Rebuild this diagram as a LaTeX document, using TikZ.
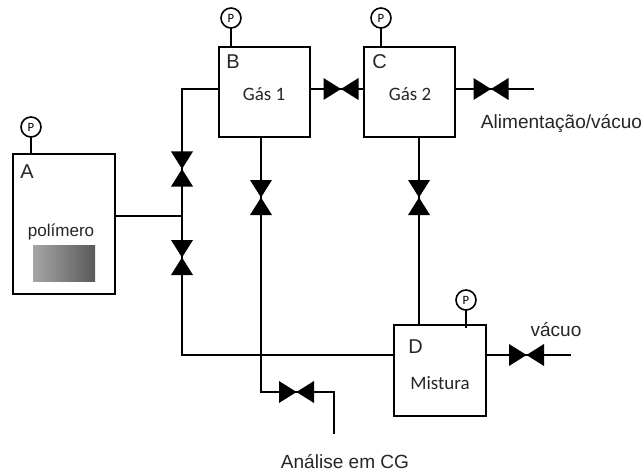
\documentclass[tikz,border=0pt]{standalone}
\usepackage{fontspec}
\setmainfont{Liberation Sans}
\newfontfamily\calfont{Carlito}
\begin{document}
\begin{tikzpicture}[x=0.75pt,y=-0.75pt,
  tank/.style={draw=black,line width=1.2pt,fill=white,inner sep=0pt,outer sep=0pt},
  pipe/.style={draw=black,line width=1.25pt},
  gauge/.style={circle,draw=black,line width=1.2pt,fill=white,minimum size=15pt,inner sep=0pt,outer sep=0pt,font=\calfont\fontsize{9.5}{10}\selectfont},
  lab/.style={inner sep=0pt,font=\fontsize{14.3}{16}\selectfont,text=black!85},
  poly/.style={inner sep=0pt,font=\fontsize{12.8}{15}\selectfont,text=black!85},
  letter/.style={inner sep=0pt,font=\fontsize{15}{17}\selectfont,text=black!85},
  inner/.style={inner sep=0pt,font=\calfont\fontsize{14.2}{16}\selectfont,text=black!85},
  bow/.style={fill=black,draw=none}]
\newcommand{\valveV}[2]{\coordinate (#1) at (#2);
  \fill[bow] ([shift={(-11,-17.5)}]#1) -- ([shift={(11,-17.5)}]#1) -- ([shift={(-11,17.5)}]#1) -- ([shift={(11,17.5)}]#1) -- cycle;}
\newcommand{\valveH}[2]{\coordinate (#1) at (#2);
  \fill[bow] ([shift={(-17.5,-11)}]#1) -- ([shift={(-17.5,11)}]#1) -- ([shift={(17.5,-11)}]#1) -- ([shift={(17.5,11)}]#1) -- cycle;}
\useasboundingbox (0,0) rectangle (642,474);
% tanks
\node[tank,minimum width=76.5pt,minimum height=105pt] (A) at (64,224) {};
\node[tank,minimum width=68.25pt,minimum height=67.5pt] (B) at (264.5,92) {};
\node[tank,minimum width=68.25pt,minimum height=67.5pt] (C) at (409.5,92) {};
\node[tank,minimum width=69pt,minimum height=68.25pt] (D) at (440,370.5) {};
% gauges
\node[gauge] (PA) at (31,127) {P};
\node[gauge] (PB) at (231,18) {P};
\node[gauge] (PC) at (381,18) {P};
\node[gauge] (PD) at (466,300) {P};
\draw[pipe] (PA) -- (PA |- A.north);
\draw[pipe] (PB) -- (PB |- B.north);
\draw[pipe] (PC) -- (PC |- C.north);
\draw[pipe] (PD) -- ([yshift=-2pt]PD |- D.north);
% junctions and free ends
\coordinate (J1) at (182,89);
\coordinate (J2) at (182,216);
\coordinate (J3) at (182,355);
\coordinate (J4) at (261,392);
\coordinate (E1) at (534,89);
\coordinate (E2) at (571,355);
\coordinate (E3) at (334,392);
\coordinate (E4) at (334,434);
\coordinate (CB) at (419,137);
% pipes
\draw[pipe] (B.west |- J1) -- (J1) -- (J3) -- (D.west |- J3);
\draw[pipe] (A.east |- J2) -- (J2);
\draw[pipe] (B.south -| J4) -- (J4) -- (E3) -- (E4);
\draw[pipe] (B.east |- J1) -- (C.west |- J1);
\draw[pipe] (C.east |- E1) -- (E1);
\draw[pipe] (D.east |- E2) -- (E2);
\draw[pipe] (CB) -- (CB |- D.north);
% valves
\valveV{V1}{182,169}
\valveV{V2}{182,257.5}
\valveV{V3}{261,197.5}
\valveV{V4}{419,197.5}
\valveH{V5}{341,89}
\valveH{V6}{491,89}
\valveH{V7}{526.5,355}
\valveH{V8}{296.5,392}
% polymer block
\shade[left color=black!35,right color=black!65] (33,245) rectangle (95,281);
% labels
\node[letter,anchor=west] (lA) at (20,172) {A};
\node[letter,anchor=west] (lB) at (226,62) {B};
\node[letter,anchor=west] (lC) at (372,62) {C};
\node[letter,anchor=west] (lD) at (408,347) {D};
\node[poly] (tp) at (61,232) {polímero};
\node[inner] (tb) at (264,94) {Gás 1};
\node[inner] (tc) at (410,94) {Gás 2};
\node[inner] (td) at (440,383) {Mistura};
\node[lab] (ta) at (561.5,123.5) {Alimentação/vácuo};
\node[lab] (tv) at (556,330) {vácuo};
\node[lab] (tg) at (345,462) {Análise em CG};
\end{tikzpicture}
\end{document}
